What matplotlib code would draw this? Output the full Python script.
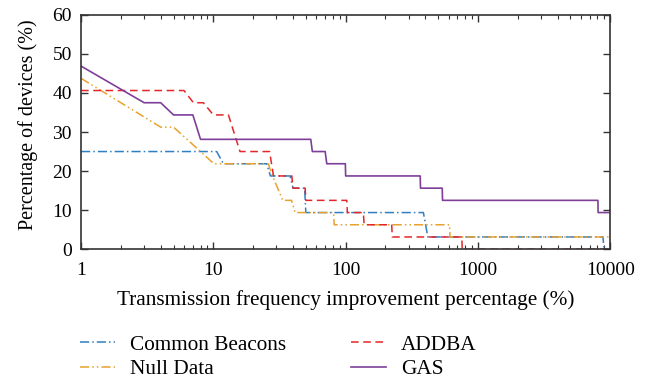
import matplotlib
matplotlib.use("Agg")
import matplotlib.pyplot as plt

# Data (x = improvement %, y = % of devices)
cb_x = [1, 10.6, 11.9, 25.3, 27, 38, 40, 49, 50, 387, 418, 8800, 9000, 10000]
cb_y = [25, 25, 21.875, 21.875, 18.75, 18.75, 15.625, 15.625, 9.375, 9.375, 3.125, 3.125, 0, 0]

nd_x = [1, 4, 5, 8, 10.1, 26, 28, 33.5, 39, 41.5, 81, 82, 610, 615, 10000]
nd_y = [43.75, 31.25, 31.25, 25, 21.875, 21.875, 18.75, 12.5, 12.5, 9.375, 9.375, 6.25, 6.25, 3.125, 3.125]

addba_x = [1, 6, 7.07, 8.4, 10, 13, 15.9, 26.6, 28.5, 39.2, 40, 49.4, 50, 102, 103,
           136, 138, 223, 225, 756, 760, 10000]
addba_y = [40.625, 40.625, 37.5, 37.5, 34.375, 34.375, 25, 25, 18.75, 18.75, 15.625, 15.625,
           12.5, 12.5, 9.375, 9.375, 6.25, 6.25, 3.125, 3.125, 0, 0]

gas_x = [1, 3, 4, 5, 7, 8, 54.5, 56, 70, 72, 99.5, 100, 366, 368, 537, 540, 8070, 8100, 10000]
gas_y = [46.875, 37.5, 37.5, 34.375, 34.375, 28.125, 28.125, 25, 25, 21.875, 21.875,
         18.75, 18.75, 15.625, 15.625, 12.5, 12.5, 9.375, 9.375]

xticks = [1, 10, 100, 1000, 10000]
yticks = [0, 10, 20, 30, 40, 50, 60]

plt.rcParams['font.family'] = ['Liberation Serif', 'DejaVu Serif']

fig = plt.figure(figsize=(6.59, 3.81), dpi=100)
ax = fig.add_axes([0.123, 0.346, 0.803, 0.615])

ax.plot(cb_x, cb_y, color='#2f7fc1', lw=1.1, ls=(0, (6, 2, 1, 2)), label='Common Beacons')
ax.plot(nd_x, nd_y, color='#e8a230', lw=1.1, ls=(0, (6, 2, 1, 2, 1, 2)), label='Null Data')
ax.plot(addba_x, addba_y, color='#e3262a', lw=1.1, ls=(0, (5, 3)), label='ADDBA')
ax.plot(gas_x, gas_y, color='#7e3f98', lw=1.2, ls='-', label='GAS')

ax.set_xscale('log')
ax.set_xlim(1, 10000)
ax.set_ylim(0, 60)
ax.set_xticks(xticks)
ax.set_xticklabels([str(t) for t in xticks])
ax.set_yticks(yticks)
ax.tick_params(which='both', direction='in', top=True, right=True, labelsize=14,
               color='#333333')
ax.tick_params(which='major', length=5, width=1)
ax.tick_params(which='minor', length=3, width=0.8)
ax.tick_params(axis='x', pad=9)
ax.tick_params(axis='y', pad=6.5)
for s in ax.spines.values():
    s.set_color('#333333')
    s.set_linewidth(1.2)

ax.set_xlabel('Transmission frequency improvement percentage (%)', fontsize=15.3, labelpad=8)
ax.set_ylabel('Percentage of devices (%)', fontsize=14.5)
ax.yaxis.set_label_coords(-0.081, 0.53)

fig.legend(loc='upper left', bbox_to_anchor=(0.121, 0.121), ncol=2, frameon=False,
           fontsize=15.3, handlelength=1.65, handletextpad=0.7, columnspacing=3.07,
           labelspacing=0.22, borderaxespad=0, borderpad=0)

fig.savefig('out.png', dpi=100)
